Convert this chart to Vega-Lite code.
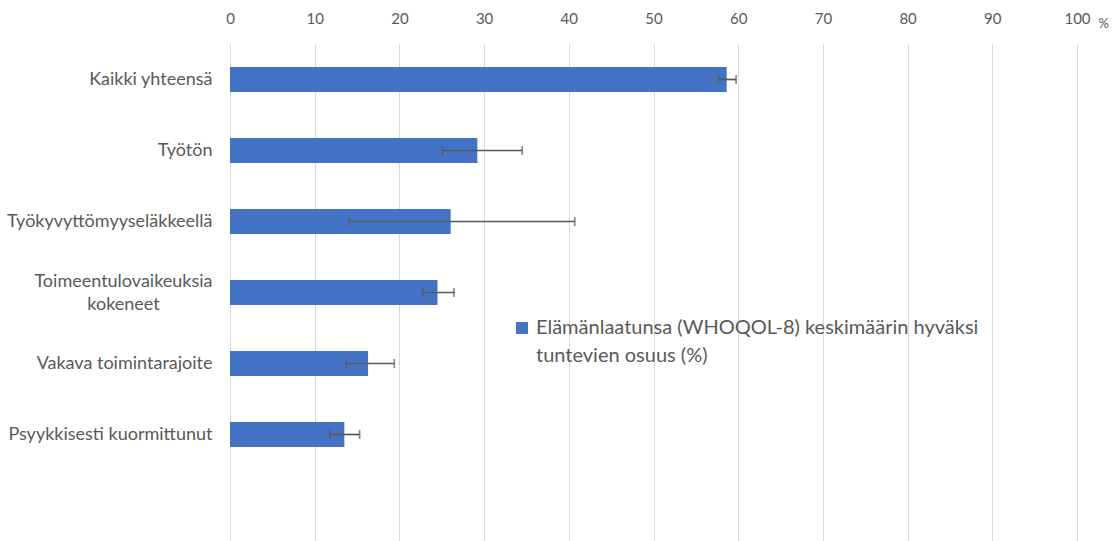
{
  "$schema": "https://vega.github.io/schema/vega-lite/v6.json",
  "width": 847,
  "height": 497,
  "autosize": {"type": "none"},
  "padding": {"left": 230, "top": 44, "right": 41, "bottom": 0},
  "background": "white",
  "config": {
    "view": {"stroke": null},
    "font": "Lato",
    "axis": {"labelColor": "#595959", "titleColor": "#595959", "labelFont": "Lato", "titleFont": "Lato"}
  },
  "data": {
    "values": [
      {"group": "Kaikki yhteensä", "value": 58.64, "lo": 57.65, "hi": 59.75, "series": "Elämänlaatunsa (WHOQOL-8) keskimäärin hyväksi tuntevien osuus (%)"},
      {"group": "Työtön", "value": 29.2, "lo": 25.1, "hi": 34.5, "series": "Elämänlaatunsa (WHOQOL-8) keskimäärin hyväksi tuntevien osuus (%)"},
      {"group": "Työkyvyttömyyseläkkeellä", "value": 26.05, "lo": 14.1, "hi": 40.7, "series": "Elämänlaatunsa (WHOQOL-8) keskimäärin hyväksi tuntevien osuus (%)"},
      {"group": "Toimeentulovaikeuksia kokeneet", "value": 24.5, "lo": 22.75, "hi": 26.45, "series": "Elämänlaatunsa (WHOQOL-8) keskimäärin hyväksi tuntevien osuus (%)"},
      {"group": "Vakava toimintarajoite", "value": 16.3, "lo": 13.7, "hi": 19.4, "series": "Elämänlaatunsa (WHOQOL-8) keskimäärin hyväksi tuntevien osuus (%)"},
      {"group": "Psyykkisesti kuormittunut", "value": 13.5, "lo": 11.8, "hi": 15.3, "series": "Elämänlaatunsa (WHOQOL-8) keskimäärin hyväksi tuntevien osuus (%)"}
    ]
  },
  "layer": [
    {
      "mark": {"type": "bar"},
      "encoding": {
        "y": {
          "field": "group", "type": "nominal",
          "scale": {
            "domain": ["Kaikki yhteensä", "Työtön", "Työkyvyttömyyseläkkeellä", "Toimeentulovaikeuksia kokeneet", "Vakava toimintarajoite", "Psyykkisesti kuormittunut", " "],
            "paddingInner": 0.65, "paddingOuter": 0.325
          },
          "axis": {
            "title": null, "domain": false, "ticks": false,
            "labelFontSize": 18, "labelLimit": 300, "labelLineHeight": 23,
            "labelPadding": {"condition": {"test": "datum.value == 'Toimeentulovaikeuksia kokeneet'", "value": 107}, "value": 18},
            "labelAlign": {"condition": {"test": "datum.value == 'Toimeentulovaikeuksia kokeneet'", "value": "center"}, "value": "right"},
            "labelOffset": {"condition": {"test": "datum.value == 'Toimeentulovaikeuksia kokeneet'", "value": -11}, "value": 0},
            "labelExpr": "datum.value == 'Toimeentulovaikeuksia kokeneet' ? ['Toimeentulovaikeuksia', 'kokeneet'] : datum.value == 'Työtön' ? 'Työtön\u00a0' : datum.value"
          }
        },
        "x": {
          "field": "value", "type": "quantitative",
          "scale": {"domain": [0, 100], "nice": false},
          "axis": {
            "orient": "top", "values": [0,10,20,30,40,50,60,70,80,90,100],
            "grid": true, "gridColor": "#D9D9D9", "gridWidth": 1, "labelFlush": false,
            "domain": false, "ticks": false, "labelPadding": 18, "labelFontSize": 15,
            "title": "%", "titleFontSize": 13, "titleFontWeight": "normal",
            "titleAngle": 0, "titleX": 868, "titleY": -17, "titleAlign": "left", "titleBaseline": "alphabetic"
          }
        },
        "color": {
          "field": "series", "type": "nominal",
          "scale": {"range": ["#4472C4"]},
          "legend": {
            "title": null, "orient": "none", "legendX": 282, "legendY": 264,
            "symbolType": "M-1,0.67H1V2.67H-1Z", "symbolSize": 144, "symbolStrokeWidth": 0,
            "labelFontSize": 20, "labelColor": "#595959", "labelFont": "Lato", "labelLimit": 700,
            "labelBaseline": "top", "labelOffset": 4,
            "encode": {"labels": {"update": {"lineHeight": {"value": 28}}}},
            "labelExpr": "['Elämänlaatunsa (WHOQOL-8) keskimäärin hyväksi', 'tuntevien osuus (%)']"
          }
        }
      }
    },
    {
      "mark": {"type": "errorbar", "color": "#595959", "thickness": 1.7, "ticks": {"size": 9, "thickness": 1.7, "color": "#595959"}},
      "encoding": {
        "y": {"field": "group", "type": "nominal"},
        "x": {"field": "lo", "type": "quantitative", "title": "%"},
        "x2": {"field": "hi"}
      }
    }
  ]
}
